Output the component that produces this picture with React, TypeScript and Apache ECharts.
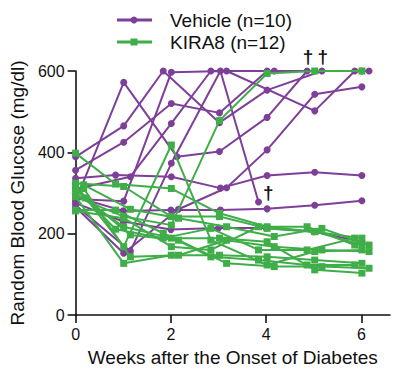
import React, { useEffect, useRef } from "react";
import * as echarts from "echarts";

// Week ticks and glucose ticks
const xTicks = [0, 2, 4, 6];
const yTicks = [0, 200, 400, 600];

// Vehicle mice: [week, glucose mg/dl]
const v1 = [[0, 280], [1.01, 572], [2.13, 389], [3.02, 402], [4.02, 486], [4.86, 600]];
const v2 = [[0, 389], [1.01, 465], [1.84, 600], [3.02, 473], [4.02, 553], [5.17, 600]];
const v3 = [[0, 356], [1.01, 425], [2.01, 520], [3.02, 497], [4.02, 600], [6.01, 600]];
const v4 = [[0, 310], [1.15, 340], [2.01, 471], [2.84, 600], [4.17, 600], [6.16, 600]];
const v5 = [[0, 285], [1.01, 280], [2.01, 597], [3.17, 600], [5.02, 502], [5.86, 600]];
const v6 = [[0, 270], [1.15, 157], [2.01, 373], [3.04, 600], [3.84, 278]];
const v7 = [[0, 265], [1.01, 152], [2.16, 260], [3.17, 313], [4.02, 406], [5.02, 543], [6.01, 561]];
const v8 = [[0, 290], [1.0, 256], [2.0, 258], [3.04, 258], [4.02, 261], [5.02, 270], [6.01, 281]];
const v9 = [[0, 275], [1.0, 230], [2.0, 210], [3.0, 214], [4.0, 214], [5.0, 205], [6.01, 180]];
const v10 = [[0, 336], [0.84, 344], [2.01, 340], [3.04, 312], [4.02, 343], [5.02, 351], [6.01, 343]];
const vehicle = [v1, v2, v3, v4, v5, v6, v7, v8, v9, v10];
// mice that died (index into vehicle), marked with a dagger at their last point
const died = [0, 1, 5];

// KIRA8 mice
const g1 = [[0, 291], [1.01, 242], [2.01, 221], [3.02, 478], [4.02, 594], [5.02, 600], [6.01, 600]];
const g2 = [[0, 320], [1.01, 168], [2.01, 418], [2.84, 184], [4.02, 123], [5.02, 156], [6.01, 160]];
const g3 = [[0, 398], [0.84, 322], [2.01, 311], [3.02, 250], [4.02, 217], [5.02, 205], [6.01, 189]];
const g4 = [[0, 324], [1.01, 316], [2.01, 242], [3.02, 242], [4.02, 213], [5.02, 205], [6.01, 172]];
const g5 = [[0.17, 320], [1.15, 260], [2.16, 238], [3.17, 217], [4.17, 193], [5.17, 213], [6.16, 172]];
const g6 = [[0, 311], [0.84, 211], [1.84, 189], [2.84, 213], [3.84, 160], [4.86, 160], [5.86, 189]];
const g7 = [[0.17, 311], [1.15, 143], [2.16, 147], [3.17, 184], [4.17, 168], [5.17, 160], [6.16, 156]];
const g8 = [[0, 291], [1.01, 127], [2.01, 147], [3.02, 147], [4.02, 143], [5.02, 135], [6.01, 127]];
const g9 = [[0.21, 288], [1.15, 197], [2.16, 184], [3.17, 127], [4.17, 119], [5.17, 119], [6.16, 115]];
const g10 = [[0, 258], [0.84, 258], [1.84, 201], [2.84, 143], [3.84, 135], [4.86, 123], [5.86, 123]];
const g11 = [[0, 256], [1.01, 238], [2.01, 168], [2.84, 160], [3.84, 217], [4.86, 217], [5.86, 172]];
const g12 = [[0, 300], [1.01, 217], [2.01, 189], [3.02, 189], [4.02, 180], [5.02, 111], [6.01, 103]];
const kira8 = [g1, g2, g3, g4, g5, g6, g7, g8, g9, g10, g11, g12];

const names = ["Vehicle (n=10)", "KIRA8 (n=12)"];

const PURPLE = "#7e3f98";
const GREEN = "#3fae49";
const FONT = "Liberation Sans, Arial, sans-serif";

export default function App() {
  const ref = useRef<HTMLDivElement>(null);
  useEffect(() => {
    if (!ref.current) return;
    const chart = echarts.init(ref.current, undefined, { renderer: "svg" });
    const series: any[] = [];
    vehicle.forEach((m, i) => {
      const isDead = died.includes(i);
      series.push({
        type: "line",
        name: names[0],
        data: m.map((p, j) => {
          if (isDead && j === m.length - 1) {
            const topPt = p[1] >= 590;
            return {
              value: p,
              label: {
                show: true,
                formatter: "\u2020",
                position: topPt ? "top" : "right",
                distance: topPt ? 2 : 1,
                offset: topPt ? [1, 0] : [0, -9],
                color: "#111",
                fontSize: 19,
                fontFamily: FONT,
                fontWeight: "bold",
              },
            };
          }
          return p;
        }),
        symbol: "circle",
        symbolSize: 7,
        itemStyle: { color: PURPLE },
        lineStyle: { color: PURPLE, width: 2 },
        z: 2,
      });
    });
    kira8.forEach((m) => {
      series.push({
        type: "line",
        name: names[1],
        data: m,
        symbol: "rect",
        symbolSize: 7,
        itemStyle: { color: GREEN },
        lineStyle: { color: GREEN, width: 2 },
        z: 3,
      });
    });

    chart.setOption({
      animation: false,
      grid: { left: 75, top: 71, right: 9, bottom: 60, containLabel: false },
      xAxis: {
        type: "value",
        min: 0,
        max: 6.6,
        interval: 2,
        name: "Weeks after the Onset of Diabetes",
        nameLocation: "middle",
        nameGap: 33,
        nameTextStyle: { fontSize: 19, color: "#111", fontFamily: FONT },
        axisLine: { show: true, onZero: false, lineStyle: { color: "#111", width: 1.6 } },
        axisTick: { show: true, length: 8, customValues: xTicks, lineStyle: { color: "#111", width: 1.6 } },
        axisLabel: { customValues: xTicks, fontSize: 16, color: "#111", fontFamily: FONT, margin: 11 },
        splitLine: { show: false },
      },
      yAxis: {
        type: "value",
        min: 0,
        max: 600,
        interval: 200,
        name: "Random Blood Glucose (mg/dl)",
        nameLocation: "middle",
        nameGap: 47,
        nameTextStyle: { fontSize: 19, color: "#111", fontFamily: FONT },
        axisLine: { show: true, onZero: false, lineStyle: { color: "#111", width: 1.6 } },
        axisTick: { show: true, length: 8, lineStyle: { color: "#111", width: 1.6 } },
        axisLabel: { fontSize: 16, color: "#111", fontFamily: FONT, margin: 11, customValues: yTicks },
        splitLine: { show: false },
      },
      graphic: [
        { type: "line", shape: { x1: 117, y1: 20, x2: 152, y2: 20 }, style: { stroke: PURPLE, lineWidth: 3 } },
        { type: "circle", shape: { cx: 134, cy: 20, r: 3.5 }, style: { fill: PURPLE } },
        { type: "text", x: 170, y: 20, style: { text: names[0], fill: "#111", fontSize: 19, fontFamily: FONT, verticalAlign: "middle" } },
        { type: "line", shape: { x1: 117, y1: 42, x2: 152, y2: 42 }, style: { stroke: GREEN, lineWidth: 3 } },
        { type: "rect", shape: { x: 130.5, y: 38.5, width: 7, height: 7 }, style: { fill: GREEN } },
        { type: "text", x: 170, y: 42, style: { text: names[1], fill: "#111", fontSize: 19, fontFamily: FONT, verticalAlign: "middle" } },
      ],
      series,
    });
    return () => chart.dispose();
  }, []);
  return <div ref={ref} style={{ width: 399, height: 375, position: "absolute", left: 0, top: 0 }} />;
}
